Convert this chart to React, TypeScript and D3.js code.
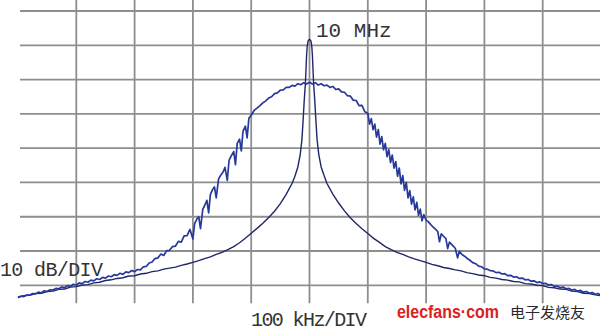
import React from 'react';
import * as d3 from 'd3';

// spectrum analyser trace, 10 MHz centre, 100 kHz/div, 10 dB/div
const gridKHz = [-400, -300, -200, -100, 0, 100, 200, 300, 400];
const gridDb = [0, -10, -20, -30, -40, -50, -60, -70, -80];

// broad (modulated) spectrum, [offset kHz, level dB]
const broadTrace: [number, number][] = [
  [-500, -83.6], [-495, -83.2], [-490, -83.3], [-485, -82.8], [-480, -82.9], [-475, -82.4], [-470, -82.5],
  [-465, -82.0], [-460, -82.2], [-455, -81.6], [-450, -81.8], [-445, -81.3], [-440, -81.4], [-435, -80.9],
  [-430, -81.0], [-425, -80.5], [-420, -80.7], [-415, -80.1], [-410, -80.3], [-405, -79.7], [-400, -79.9],
  [-395, -79.3], [-390, -79.5], [-385, -78.9], [-380, -79.1], [-375, -78.5], [-370, -78.7], [-365, -78.1],
  [-360, -78.3], [-355, -77.7], [-350, -77.9], [-345, -77.3], [-340, -77.5], [-335, -76.9], [-330, -77.1],
  [-325, -76.5], [-320, -76.8], [-315, -76.1], [-310, -76.3], [-305, -75.7], [-300, -76.0],
  [-295, -75.4], [-290, -75.5], [-285, -74.6], [-280, -74.5], [-275, -73.5], [-270, -73.2], [-265, -72.2],
  [-260, -72.0], [-255, -70.9], [-250, -71.3], [-245, -69.9], [-240, -69.8], [-235, -68.7], [-230, -68.6],
  [-225, -67.2], [-220, -67.4], [-215, -65.6], [-210, -65.5], [-205, -63.7], [-200, -66.5], [-197, -62.0],
  [-193, -60.6], [-190, -60.0], [-187, -63.5], [-183, -57.8], [-180, -56.8], [-176, -55.2], [-173, -58.9],
  [-170, -53.5], [-166, -52.0], [-163, -51.3], [-160, -54.5], [-156, -49.0], [-152, -47.8], [-148, -46.9],
  [-145, -45.6], [-141, -49.4], [-138, -43.6], [-134, -42.2], [-130, -41.0], [-127, -44.8], [-124, -38.6],
  [-120, -37.4], [-117, -40.8], [-114, -35.0], [-110, -33.6], [-107, -37.0], [-104, -31.3], [-100, -30.4],
  [-95, -29.0], [-90, -28.3], [-85, -27.6], [-80, -26.8], [-75, -26.2], [-70, -25.4], [-65, -25.0],
  [-60, -24.1], [-55, -23.9], [-50, -23.1], [-45, -23.0], [-40, -22.3], [-35, -22.3], [-30, -21.7],
  [-25, -21.9], [-20, -21.2], [-15, -21.5], [-10, -20.9], [-5, -21.3], [0, -20.8], [5, -21.3], [10, -20.9],
  [15, -21.6], [20, -21.2], [25, -21.8], [30, -21.6], [35, -22.3], [40, -22.0], [45, -22.9], [50, -22.7],
  [55, -23.6], [60, -23.7], [65, -24.7], [70, -24.8], [75, -26.0], [80, -26.1], [85, -27.6], [90, -27.5],
  [95, -29.4],
  [100, -29.8], [103, -33.0], [106, -31.4], [109, -34.6], [112, -33.0], [115, -36.8], [118, -34.6],
  [121, -38.8], [124, -36.6], [127, -40.5], [130, -38.6], [133, -42.5], [136, -40.4], [139, -44.2],
  [142, -42.0], [145, -45.8], [148, -43.9], [151, -48.2], [154, -45.8], [157, -50.4], [160, -48.0],
  [163, -52.3], [166, -50.0], [169, -54.5], [172, -52.4], [175, -56.3], [178, -54.2], [181, -58.0],
  [184, -55.8], [187, -59.6], [190, -57.8], [193, -61.2], [196, -59.4], [200, -61.0], [204, -61.5],
  [208, -62.3], [212, -63.0], [216, -63.6], [220, -64.3], [223, -67.3], [226, -65.0], [230, -65.7],
  [234, -66.4], [237, -69.3], [240, -67.4], [245, -68.3], [250, -69.2], [254, -72.0], [257, -70.1],
  [262, -71.1], [266, -71.5], [270, -72.1], [275, -72.7], [280, -73.4], [285, -73.7], [290, -74.4],
  [295, -74.6], [300, -75.2],
  [305, -75.3], [310, -75.7], [315, -75.8], [320, -76.3], [325, -76.2], [330, -76.7], [335, -76.6],
  [340, -77.2], [345, -77.1], [350, -77.6], [355, -77.5], [360, -78.0], [365, -77.9], [370, -78.4],
  [375, -78.3], [380, -78.8], [385, -78.7], [390, -79.2], [395, -79.0], [400, -79.5], [405, -79.4],
  [410, -79.9], [415, -79.8], [420, -80.3], [425, -80.2], [430, -80.7], [435, -80.5], [440, -81.0],
  [445, -80.9], [450, -81.4], [455, -81.2], [460, -81.7], [465, -81.5], [470, -82.0], [475, -81.8],
  [480, -82.3], [485, -82.1], [490, -82.6], [495, -82.4], [500, -82.9],
];

// unmodulated carrier, [offset kHz, level dB]
const carrierTrace: [number, number][] = [
  [-500, -83.4], [-490, -83.0], [-480, -82.9], [-470, -82.4], [-460, -82.3], [-450, -81.8], [-440, -81.7],
  [-430, -81.2], [-420, -81.1], [-410, -80.5], [-400, -80.4], [-390, -79.9], [-380, -79.8], [-370, -79.3],
  [-360, -79.1], [-350, -78.6], [-340, -78.4], [-330, -78.0], [-320, -77.8], [-310, -77.3], [-300, -77.2],
  [-290, -76.7], [-280, -76.5], [-270, -76.0], [-260, -75.8], [-250, -75.3], [-240, -75.0], [-230, -74.7],
  [-220, -74.2], [-210, -73.8], [-200, -73.3], [-190, -72.8], [-180, -72.2], [-170, -71.7], [-160, -71.0],
  [-150, -70.4], [-140, -69.6], [-130, -68.7], [-120, -67.6], [-110, -66.3], [-100, -64.8], [-90, -63.4],
  [-80, -61.9], [-70, -60.2], [-60, -58.4], [-50, -56.2], [-40, -53.5], [-30, -50.3], [-25, -48.2],
  [-20, -45.5], [-16, -42.0], [-13, -37.5], [-11, -32.0], [-9, -26.0], [-7, -21.0], [-6, -17.0],
  [-5, -13.0], [-4, -10.5], [-3, -9.2], [-2, -8.6], [0, -8.3], [2, -8.6], [3, -9.2], [4, -10.5],
  [5, -13.0], [6, -17.0], [7, -21.0], [9, -26.0], [11, -32.0], [13, -37.5], [16, -42.0], [20, -45.5],
  [25, -48.0], [30, -50.3], [40, -53.4], [50, -56.0], [60, -58.3], [70, -60.3], [80, -62.0], [90, -63.5],
  [100, -64.9], [110, -66.3], [120, -67.5], [130, -68.7], [140, -69.6], [150, -70.4], [160, -71.0],
  [170, -71.7], [180, -72.3], [190, -72.8], [200, -73.3], [210, -73.9], [220, -74.3], [230, -74.8],
  [240, -75.1], [250, -75.5], [260, -75.8], [270, -76.3], [280, -76.6], [290, -77.0], [300, -77.2],
  [310, -77.7], [320, -77.9], [330, -78.3], [340, -78.5], [350, -78.9], [360, -79.0], [370, -79.5],
  [380, -79.6], [390, -80.0], [400, -80.1], [410, -80.6], [420, -80.7], [430, -81.1], [440, -81.2],
  [450, -81.7], [460, -81.8], [470, -82.3], [480, -82.4], [490, -82.8], [500, -83.0],
];

const width = 600;
const height = 332;

const App: React.FC = () => {
  const x = d3.scaleLinear().domain([-500, 500]).range([18, 601]);
  const y = d3.scaleLinear().domain([0, -80]).range([11, 285.3]);

  const line = d3.line<[number, number]>()
    .x(d => x(d[0]))
    .y(d => y(d[1]));

  const mono = '"Liberation Mono", "DejaVu Sans Mono", monospace';

  return (
    <svg
      width={width}
      height={height}
      style={{ position: 'fixed', left: 0, top: 0, background: '#fff' }}
    >
      {/* graticule */}
      {gridDb.map(d => (
        <line key={'h' + d} x1={20} x2={600} y1={y(d)} y2={y(d)} stroke="#8e8e8e" strokeWidth={1.8} />
      ))}
      {gridKHz.map(k => (
        <line key={'v' + k} x1={x(k)} x2={x(k)} y1={y(3.5)} y2={y(-85.2)} stroke="#8e8e8e" strokeWidth={1.8} />
      ))}

      {/* traces */}
      <path d={line(carrierTrace) || ''} fill="none" stroke="#1f276a" strokeWidth={1.4} />
      <path d={line(broadTrace) || ''} fill="none" stroke="#27399a" strokeWidth={1.7} strokeLinejoin="round" />

      {/* labels */}
      <text x={316} y={37} fontFamily={mono} fontSize={21} fill="#333">10 MHz</text>
      <text x={0} y={276} fontFamily={mono} fontSize={20} fill="#333" textLength={103}>10 dB/DIV</text>
      <text x={251} y={325.5} fontFamily={mono} fontSize={20} fill="#333" textLength={116}>100 kHz/DIV</text>

      {/* watermark */}
      <text x={397} y={318} fontFamily='"Liberation Sans", Arial, sans-serif' fontWeight="bold" fontSize={18}
        fill="#d9231c" textLength={102} lengthAdjust="spacingAndGlyphs">elecfans·com</text>
      <text x={510} y={318} fontFamily='"Noto Sans CJK SC", sans-serif' fontSize={14.5} fill="#2a2a2a"
        textLength={75} lengthAdjust="spacingAndGlyphs">电子发烧友</text>
    </svg>
  );
};

export default App;
